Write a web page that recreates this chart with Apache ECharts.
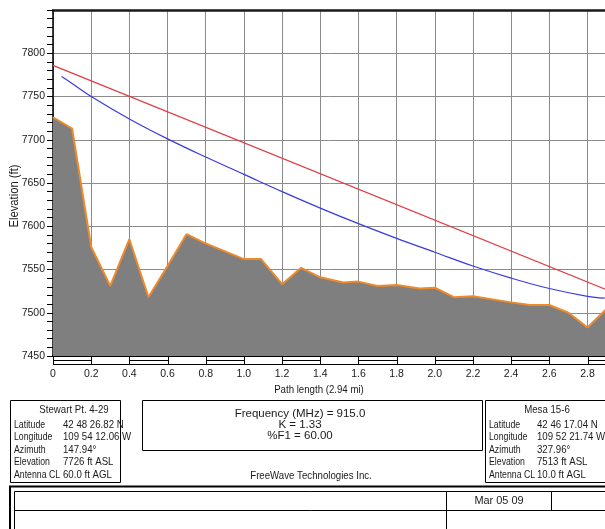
<!DOCTYPE html>
<html>
<head>
<meta charset="utf-8">
<script src="https://cdn.jsdelivr.net/npm/echarts@6/dist/echarts.min.js"></script>
<style>
  html, body { margin: 0; padding: 0; background: #fff; overflow: hidden; }
  #chart { width: 605px; height: 529px; }
</style>
</head>
<body>
<div id="chart"></div>
<script>
// Ground profile along the path: distance (mi) and elevation (ft ASL)
const terrainDist = [0, 0.1, 0.2, 0.3, 0.4, 0.5, 0.6, 0.7, 0.79, 1.0, 1.09, 1.2, 1.3, 1.4, 1.52, 1.6, 1.7, 1.8, 1.92, 2.0, 2.1, 2.2, 2.4, 2.5, 2.6, 2.7, 2.8, 2.94];
const terrainElev = [7726, 7713, 7576, 7531, 7585, 7518, 7554, 7591, 7581, 7562, 7562, 7533, 7552, 7541, 7535, 7536, 7531, 7532, 7528, 7529, 7518, 7519, 7512, 7509, 7509, 7500, 7483, 7513];

// Straight line of sight between the two antennas
const losDist = [0, 2.94];
const losElev = [7786, 7523];

// Fresnel clearance curve
const fresnelDist = [0.045, 0.1, 0.2, 0.4, 0.6, 0.8, 1.0, 1.2, 1.4, 1.6, 1.8, 2.0, 2.2, 2.4, 2.6, 2.8, 2.89];
const fresnelElev = [7773, 7765, 7750, 7724, 7701, 7680, 7660, 7640, 7621, 7603, 7586, 7570, 7554, 7540, 7528, 7519, 7517];

// Alternating scale bar segments under the distance axis
const scaleBarStarts = [0, 0.2, 0.4, 0.6, 0.8, 1.0, 1.2, 1.4, 1.6, 1.8, 2.0, 2.2, 2.4, 2.6, 2.8];

// Site and link details
const siteFields = ['Latitude', 'Longitude', 'Azimuth', 'Elevation', 'Antenna CL'];
const siteAName = 'Stewart Pt. 4-29';
const siteAValues = ['42 48 26.82 N', '109 54 12.06 W', '147.94°', '7726 ft ASL', '60.0 ft AGL'];
const siteBName = 'Mesa 15-6';
const siteBValues = ['42 46 17.04 N', '109 52 21.74 W', '327.96°', '7513 ft ASL', '10.0 ft AGL'];
const linkLines = ['Frequency (MHz) = 915.0', 'K = 1.33', '%F1 = 60.00'];
const vendorText = 'FreeWave Technologies Inc.';
const dateText = 'Mar 05 09';
const xAxisTitle = 'Path length (2.94 mi)';
const yAxisTitle = 'Elevation (ft)';

const Y_MIN = 7450, Y_MAX = 7850;
const FONT = '"Liberation Sans", Arial, sans-serif';
const TXT = '#1a1a1a';
const NARROW = 0.84;        // condensed lettering used in the panels
const NARROW_FIELD = 0.76;  // field names are set a little tighter

const zip = (xs, ys) => xs.map((x, i) => [x, ys[i]]);

const chart = echarts.init(document.getElementById('chart'), null, { renderer: 'canvas' });

function textEl(x, y, text, opts) {
  opts = opts || {};
  const el = {
    type: 'text', x: x, y: y, silent: true,
    scaleX: opts.scaleX != null ? opts.scaleX : 1,
    style: Object.assign({ text: text, fill: TXT, font: '11.5px ' + FONT, verticalAlign: 'middle', align: 'left' }, opts.style || {})
  };
  if (opts.rotation != null) el.rotation = opts.rotation;
  return el;
}
function lineEl(x1, y1, x2, y2, w) {
  return { type: 'line', silent: true, shape: { x1, y1, x2, y2 }, style: { stroke: '#000', lineWidth: w || 1 } };
}
function rectEl(x, y, w, h, lw) {
  return { type: 'rect', silent: true, shape: { x, y, width: w, height: h }, style: { fill: null, stroke: '#000', lineWidth: lw || 1 } };
}

const graphics = [];
// Axis titles
graphics.push(textEl(319, 390, xAxisTitle, { scaleX: NARROW, style: { align: 'center' } }));
graphics.push(textEl(15, 196, yAxisTitle, { rotation: Math.PI / 2, scaleX: 0.9, style: { align: 'center', font: '12.5px ' + FONT } }));

// Site panel: box, centred name, then field / value rows
function sitePanel(left, width, nameX, valueX, name, values) {
  graphics.push(rectEl(left + 0.5, 400.5, width, 82));
  graphics.push(textEl(nameX, 410, name, { scaleX: NARROW, style: { align: 'center' } }));
  siteFields.forEach((f, i) => {
    const y = 424.5 + i * 12.6;
    graphics.push(textEl(left + 4, y, f, { scaleX: NARROW_FIELD }));
    graphics.push(textEl(valueX, y, values[i], { scaleX: NARROW }));
  });
}
sitePanel(10, 110, 74, 63, siteAName, siteAValues);
sitePanel(485, 160, 547, 537, siteBName, siteBValues);

// Link panel
graphics.push(rectEl(142.5, 400.5, 340, 50));
linkLines.forEach((t, i) => graphics.push(textEl(300, 413.5 + i * 11, t, { style: { align: 'center' } })));
graphics.push(textEl(311, 476, vendorText, { scaleX: NARROW, style: { align: 'center' } }));

// Title block table
graphics.push(rectEl(10, 486.5, 640, 80, 2));
graphics.push(rectEl(14.5, 491.5, 640, 80, 1));
graphics.push(lineEl(14.5, 510.5, 650, 510.5, 1));
graphics.push(lineEl(446.5, 491.5, 446.5, 560, 1));
graphics.push(lineEl(551.5, 491.5, 551.5, 510.5, 1));
graphics.push(textEl(499, 501, dateText, { scaleX: 0.95, style: { align: 'center' } }));

const axisLabelStyle = { color: TXT, fontFamily: FONT, fontSize: 10.5 };

chart.setOption({
  animation: false,
  backgroundColor: '#ffffff',
  grid: { left: 53, top: 10, width: 572.7, height: 346, outerBoundsMode: 'none', containLabel: false, show: false },
  xAxis: [{
    type: 'value', min: 0, max: 3, interval: 0.2, position: 'bottom',
    axisLine: { show: true, onZero: false, lineStyle: { color: '#000', width: 2 } },
    axisTick: { show: true, inside: true, length: 5, lineStyle: { color: '#000', width: 1 } },
    minorTick: { show: true, splitNumber: 5, length: 5, lineStyle: { color: '#000', width: 1 } },
    axisLabel: Object.assign({ margin: 13, formatter: v => (Math.abs(v) < 1e-9 ? '0' : v.toFixed(1)), showMaxLabel: true }, axisLabelStyle),
    splitLine: { show: true, lineStyle: { color: '#8c8c8c', width: 1 } },
    minorSplitLine: { show: false }
  }, {
    type: 'value', min: 0, max: 3, position: 'top',
    axisLine: { show: true, onZero: false, lineStyle: { color: '#1a1a1a', width: 2.5 } },
    axisTick: { show: false }, axisLabel: { show: false }, splitLine: { show: false }
  }],
  yAxis: [{
    type: 'value', min: Y_MIN, max: Y_MAX, interval: 50,
    axisLine: { show: true, onZero: false, lineStyle: { color: '#000', width: 1.5 } },
    axisTick: { show: true, inside: false, length: 6, lineStyle: { color: '#000', width: 1 } },
    minorTick: { show: true, splitNumber: 5, length: 6, lineStyle: { color: '#000', width: 1 } },
    axisLabel: Object.assign({ margin: 8, showMaxLabel: false, formatter: v => (v >= Y_MAX ? '' : String(v)) }, axisLabelStyle),
    splitLine: { show: true, lineStyle: { color: '#8c8c8c', width: 1 } }
  }],
  series: [{
    name: 'Terrain', type: 'line', data: zip(terrainDist, terrainElev),
    symbol: 'none', z: 2,
    lineStyle: { color: '#ef8a2c', width: 2 },
    areaStyle: { color: '#7f7f7f', opacity: 1, origin: 'start' }
  }, {
    name: 'Line of sight', type: 'line', data: zip(losDist, losElev),
    symbol: 'none', z: 3, lineStyle: { color: '#e23b43', width: 1.2 }
  }, {
    name: 'Fresnel', type: 'line', data: zip(fresnelDist, fresnelElev),
    symbol: 'none', smooth: 0.4, z: 3, lineStyle: { color: '#3a3ae2', width: 1.2 }
  }, {
    name: 'Scale bar', type: 'custom', clip: false, silent: true, z: 4,
    data: scaleBarStarts.map((s, i) => [s, i]),
    renderItem: function (params, api) {
      const x0 = api.value(0), idx = api.value(1);
      const a = api.coord([x0, Y_MIN]);
      const b = api.coord([x0 + 0.2, Y_MIN]);
      const base = Math.round(a[1]);
      const xa = Math.round(a[0]) + 0.5, xb = Math.round(b[0]) + 0.5;
      const st = { stroke: '#000', lineWidth: 1 };
      const kids = [
        { type: 'line', shape: { x1: xa, y1: base, x2: xa, y2: base + 9 }, style: st },
        { type: 'line', shape: { x1: xa, y1: base + 8.5, x2: xb, y2: base + 8.5 }, style: st }
      ];
      if (idx % 2 === 0) {
        kids.push({ type: 'line', shape: { x1: xa, y1: base + 4.5, x2: xb, y2: base + 4.5 }, style: st });
      }
      return { type: 'group', children: kids };
    }
  }],
  graphic: graphics
});
</script>
</body>
</html>
